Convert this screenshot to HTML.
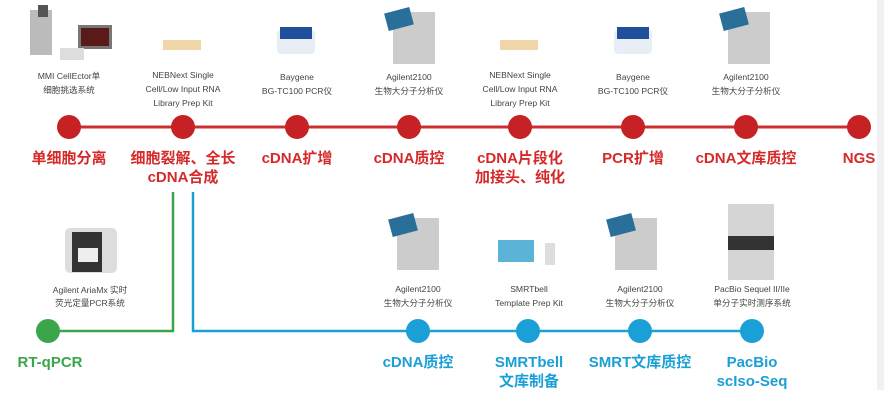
<!DOCTYPE html>
<html><head><meta charset="utf-8"><style>
html,body{margin:0;padding:0;background:#fff;}
svg{display:block;}
.cap{font-family:"Liberation Sans","Noto Sans CJK SC",sans-serif;font-size:8.6px;fill:#444;text-anchor:middle;}
.r{font-family:"Liberation Sans","Noto Sans CJK SC",sans-serif;font-size:15px;font-weight:bold;fill:#d42a2a;text-anchor:middle;}
.b{font-family:"Liberation Sans","Noto Sans CJK SC",sans-serif;font-size:15px;font-weight:bold;fill:#1a9fd6;text-anchor:middle;}
.g{font-family:"Liberation Sans","Noto Sans CJK SC",sans-serif;font-size:15px;font-weight:bold;fill:#3aa649;text-anchor:middle;}
</style></head><body>
<svg width="884" height="417" viewBox="0 0 884 417" xmlns="http://www.w3.org/2000/svg">
<rect x="877" y="0" width="7" height="390" fill="#f1f1f1"/>
<!-- red line -->
<line x1="69" y1="127" x2="859" y2="127" stroke="#c9302f" stroke-width="3"/>
<g fill="#c62226">
<circle cx="69" cy="127" r="12"/><circle cx="183" cy="127" r="12"/><circle cx="297" cy="127" r="12"/><circle cx="409" cy="127" r="12"/>
<circle cx="520" cy="127" r="12"/><circle cx="633" cy="127" r="12"/><circle cx="746" cy="127" r="12"/><circle cx="859" cy="127" r="12"/>
</g>
<!-- green branch -->
<polyline points="173,192 173,331 48,331" fill="none" stroke="#3aa649" stroke-width="2.5"/>
<circle cx="48" cy="331" r="12" fill="#3aa649"/>
<!-- blue branch -->
<polyline points="193,192 193,331 752,331" fill="none" stroke="#1a9fd6" stroke-width="2.5"/>
<g fill="#1a9fd6">
<circle cx="418" cy="331" r="12"/><circle cx="528" cy="331" r="12"/><circle cx="640" cy="331" r="12"/><circle cx="752" cy="331" r="12"/>
</g>
<!-- device icons (approximate) -->
<g>
<rect x="30" y="10" width="22" height="45" fill="#bbb"/><rect x="38" y="5" width="10" height="12" fill="#555"/>
<rect x="78" y="25" width="34" height="24" fill="#777"/><rect x="81" y="28" width="28" height="18" fill="#5a1a1a"/>
<rect x="60" y="48" width="24" height="12" fill="#ddd"/>
<rect x="163" y="40" width="38" height="10" fill="#f0d6a8"/>
<rect x="277" y="30" width="38" height="24" rx="4" fill="#e8eef5"/><rect x="280" y="27" width="32" height="12" fill="#1f4f9a"/>
<rect x="393" y="12" width="42" height="52" fill="#ccc"/><rect x="386" y="10" width="26" height="18" fill="#2a6f9a" transform="rotate(-15 399 19)"/>
<rect x="500" y="40" width="38" height="10" fill="#f0d6a8"/>
<rect x="614" y="30" width="38" height="24" rx="4" fill="#e8eef5"/><rect x="617" y="27" width="32" height="12" fill="#1f4f9a"/>
<rect x="728" y="12" width="42" height="52" fill="#ccc"/><rect x="721" y="10" width="26" height="18" fill="#2a6f9a" transform="rotate(-15 734 19)"/>
<rect x="65" y="228" width="52" height="45" rx="5" fill="#ddd"/><rect x="72" y="232" width="30" height="40" fill="#333"/><rect x="78" y="248" width="20" height="14" fill="#eee"/>
<rect x="397" y="218" width="42" height="52" fill="#ccc"/><rect x="390" y="216" width="26" height="18" fill="#2a6f9a" transform="rotate(-15 403 225)"/>
<rect x="498" y="240" width="36" height="22" fill="#5bb3d8"/><rect x="545" y="243" width="10" height="22" fill="#ddd"/>
<rect x="615" y="218" width="42" height="52" fill="#ccc"/><rect x="608" y="216" width="26" height="18" fill="#2a6f9a" transform="rotate(-15 621 225)"/>
<rect x="728" y="204" width="46" height="76" fill="#d5d5d5"/><rect x="728" y="236" width="46" height="14" fill="#333"/>
</g>
<!-- captions -->
<text class="cap" x="69" y="79">MMI CellEctor单</text><text class="cap" x="69" y="93">细胞挑选系统</text>
<text class="cap" x="183" y="78">NEBNext Single</text><text class="cap" x="183" y="92">Cell/Low Input RNA</text><text class="cap" x="183" y="106">Library Prep Kit</text>
<text class="cap" x="297" y="80">Baygene</text><text class="cap" x="297" y="94">BG-TC100 PCR仪</text>
<text class="cap" x="409" y="80">Agilent2100</text><text class="cap" x="409" y="94">生物大分子分析仪</text>
<text class="cap" x="520" y="78">NEBNext Single</text><text class="cap" x="520" y="92">Cell/Low Input RNA</text><text class="cap" x="520" y="106">Library Prep Kit</text>
<text class="cap" x="633" y="80">Baygene</text><text class="cap" x="633" y="94">BG-TC100 PCR仪</text>
<text class="cap" x="746" y="80">Agilent2100</text><text class="cap" x="746" y="94">生物大分子分析仪</text>
<text class="cap" x="90" y="293">Agilent AriaMx 实时</text><text class="cap" x="90" y="306">荧光定量PCR系统</text>
<text class="cap" x="418" y="292">Agilent2100</text><text class="cap" x="418" y="306">生物大分子分析仪</text>
<text class="cap" x="529" y="292">SMRTbell</text><text class="cap" x="529" y="306">Template Prep Kit</text>
<text class="cap" x="640" y="292">Agilent2100</text><text class="cap" x="640" y="306">生物大分子分析仪</text>
<text class="cap" x="752" y="292">PacBio Sequel II/IIe</text><text class="cap" x="752" y="306">单分子实时测序系统</text>
<!-- red labels -->
<text class="r" x="69" y="163">单细胞分离</text>
<text class="r" x="183" y="163">细胞裂解、全长</text><text class="r" x="183" y="182">cDNA合成</text>
<text class="r" x="297" y="163">cDNA扩增</text>
<text class="r" x="409" y="163">cDNA质控</text>
<text class="r" x="520" y="163">cDNA片段化</text><text class="r" x="520" y="182">加接头、纯化</text>
<text class="r" x="633" y="163">PCR扩增</text>
<text class="r" x="746" y="163">cDNA文库质控</text>
<text class="r" x="859" y="163">NGS</text>
<!-- green/blue labels -->
<text class="g" x="50" y="367">RT-qPCR</text>
<text class="b" x="418" y="367">cDNA质控</text>
<text class="b" x="529" y="367">SMRTbell</text><text class="b" x="529" y="386">文库制备</text>
<text class="b" x="640" y="367">SMRT文库质控</text>
<text class="b" x="752" y="367">PacBio</text><text class="b" x="752" y="386">scIso-Seq</text>
</svg>
</body></html>
